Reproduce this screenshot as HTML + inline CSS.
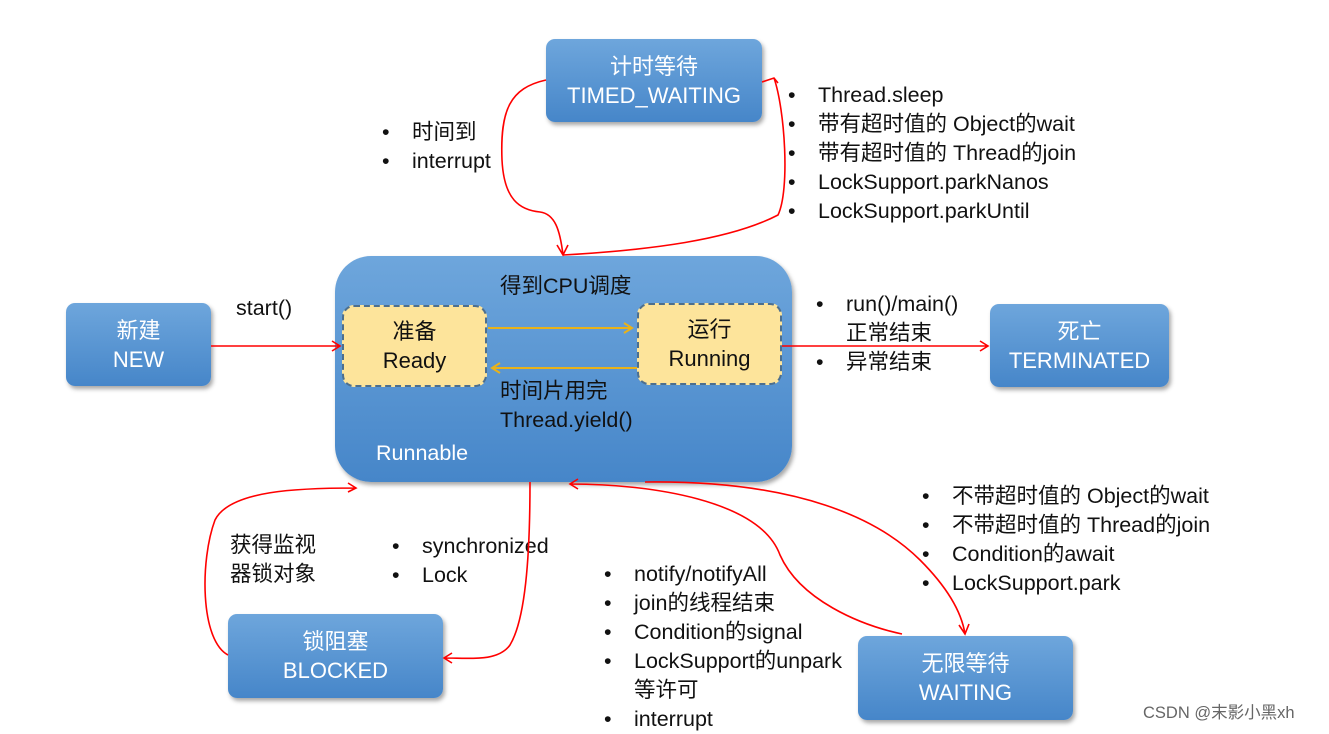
<!DOCTYPE html>
<html><head><meta charset="utf-8"><style>
body{margin:0;width:1329px;height:732px;background:#fff;position:relative;overflow:hidden;font-family:"Liberation Sans","Noto Sans CJK SC",sans-serif;}
.b{position:absolute;border-radius:9px;background:linear-gradient(#6ea6dc,#4686c9);box-shadow:2px 3px 4px rgba(0,0,0,.35);color:#fff;font-size:22px;text-align:center;display:flex;flex-direction:column;justify-content:center;line-height:29px;}
.y{position:absolute;border-radius:12px;background:#fde49b;border:2.5px dashed #4d6f8e;color:#111;font-size:22px;text-align:center;display:flex;flex-direction:column;justify-content:center;line-height:29px;box-sizing:border-box;}
.t{position:absolute;font-size:21.5px;color:#111;line-height:29px;white-space:nowrap;}
ul.t{margin:0;padding-left:0;list-style:none;}
ul.t li::before{content:"•";position:absolute;margin-left:-30px;}
</style></head><body>
<div class="b" style="left:546px;top:39px;width:216px;height:83px">计时等待<br>TIMED_WAITING</div>
<div class="b" style="left:66px;top:303px;width:145px;height:83px">新建<br>NEW</div>
<div class="b" style="left:335px;top:256px;width:457px;height:226px;border-radius:36px"></div>
<div class="t" style="left:500px;top:272px">得到CPU调度</div>
<div class="t" style="left:500px;top:377px">时间片用完<br>Thread.yield()</div>
<div class="t" style="left:376px;top:439px;color:#fff">Runnable</div>
<div class="y" style="left:342px;top:305px;width:145px;height:82px">准备<br>Ready</div>
<div class="y" style="left:637px;top:303px;width:145px;height:82px">运行<br>Running</div>
<div class="b" style="left:990px;top:304px;width:179px;height:83px">死亡<br>TERMINATED</div>
<div class="b" style="left:228px;top:614px;width:215px;height:84px">锁阻塞<br>BLOCKED</div>
<div class="b" style="left:858px;top:636px;width:215px;height:84px">无限等待<br>WAITING</div>
<div class="t" style="left:236px;top:294px">start()</div>
<ul class="t" style="left:412px;top:118px"><li>时间到</li><li>interrupt</li></ul>
<ul class="t" style="left:818px;top:81px"><li>Thread.sleep</li><li>带有超时值的 Object的wait</li><li>带有超时值的 Thread的join</li><li>LockSupport.parkNanos</li><li>LockSupport.parkUntil</li></ul>
<ul class="t" style="left:846px;top:290px"><li>run()/main()<br>正常结束</li><li>异常结束</li></ul>
<div class="t" style="left:230px;top:531px">获得监视<br>器锁对象</div>
<ul class="t" style="left:422px;top:532px"><li>synchronized</li><li>Lock</li></ul>
<ul class="t" style="left:634px;top:560px"><li>notify/notifyAll</li><li>join的线程结束</li><li>Condition的signal</li><li>LockSupport的unpark<br>等许可</li><li>interrupt</li></ul>
<ul class="t" style="left:952px;top:482px"><li>不带超时值的 Object的wait</li><li>不带超时值的 Thread的join</li><li>Condition的await</li><li>LockSupport.park</li></ul>
<div class="t" style="left:1143px;top:699px;font-size:16.5px;color:#666">CSDN @末影小黑xh</div>
<svg width="1329" height="732" style="position:absolute;left:0;top:0" fill="none" stroke-width="1.6">
<g stroke="#e8b21a" stroke-width="2"><path d="M488 328H632M624 323l8 5-8 5"/><path d="M637 368H492M500 363l-8 5 8 5"/></g>
<g stroke="#f00">
<path d="M546 80C510 88 500 110 502 160C504 200 520 210 540 212C555 214 560 230 563 255M557 245l6 10 5-10"/>
<path d="M563 255C650 250 730 240 778 215C790 190 785 110 774 78M762 82l12-4 4 5"/>
<path d="M211 346H340M332 341l8 5-8 5"/>
<path d="M782 346H988M980 341l8 5-8 5"/>
<path d="M228 655C200 640 200 560 215 520C230 490 300 488 356 488M348 483l8 5-8 4"/>
<path d="M530 482C530 560 525 620 510 645C498 662 470 658 444 658M452 653l-8 5 8 5"/>
<path d="M902 634C860 625 800 600 780 555C760 500 650 484 570 484M578 479l-8 5 8 5"/>
<path d="M645 482C800 480 880 520 920 560C950 590 962 615 965 634M959 625l6 9 4-10"/>
</g></svg>
</body></html>
